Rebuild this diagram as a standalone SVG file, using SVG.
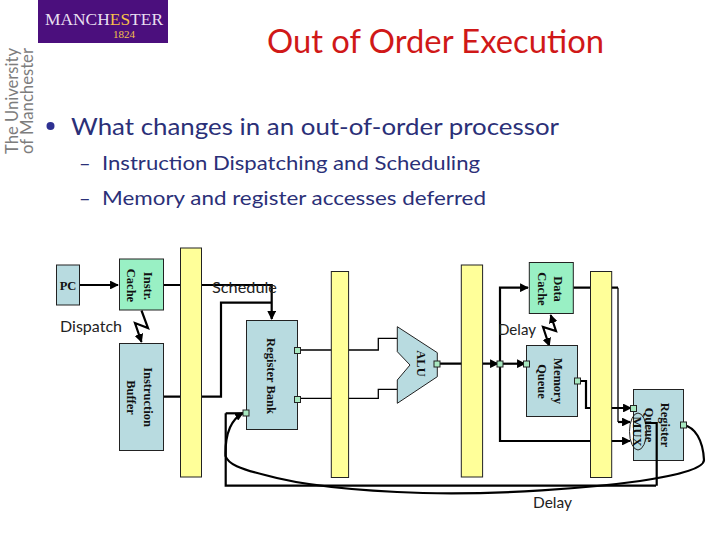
<svg xmlns="http://www.w3.org/2000/svg" width="720" height="540" viewBox="0 0 720 540">
<style>
.s{font-family:"Lato","Open Sans",sans-serif}
.n{font-family:"Liberation Serif",serif;font-weight:bold;font-size:12.5px;fill:#111;text-anchor:middle}
.blue{fill:#b8dbe0;stroke:#222;stroke-width:1}
.green{fill:#99f0c4;stroke:#222;stroke-width:1}
.bar{fill:#ffff99;stroke:#222;stroke-width:1}
.port{fill:#a8e8c0;stroke:#222;stroke-width:1}
.t{fill:none;stroke:#000;stroke-width:2.200}
.m{fill:none;stroke:#000;stroke-width:1.300}
.lab{font-size:15px;fill:#222}
</style>
<defs>
<marker id="a" viewBox="0 0 10 10" refX="9" refY="5" markerWidth="4" markerHeight="4" orient="auto-start-reverse" markerUnits="strokeWidth"><path d="M0 0L10 5L0 10Z" fill="#000"/></marker>
</defs>
<rect width="720" height="540" fill="#fff"/>
<g id="logo">
<rect x="38" y="0" width="130" height="43" fill="#4b0f7d"/>
<text x="45" y="24.500" font-family="Liberation Serif,serif" font-size="16" fill="#e8dff0" textLength="118" lengthAdjust="spacingAndGlyphs">MANCH<tspan fill="#f5c04a">ES</tspan>TER</text>
<text x="124" y="38" font-family="Liberation Serif,serif" font-size="11" fill="#f5c04a" text-anchor="middle">1824</text>
<g fill="#7d7d7d" font-family="Lato,sans-serif">
<text transform="translate(18,154) rotate(-90)" font-size="18" textLength="106" lengthAdjust="spacingAndGlyphs">The University</text>
<text transform="translate(33,154) rotate(-90)" font-size="17" textLength="106" lengthAdjust="spacingAndGlyphs">of Manchester</text>
</g>
</g>
<text class="s" x="267" y="53" font-size="32" fill="#d01818" textLength="337" lengthAdjust="spacingAndGlyphs">Out of Order Execution</text>
<circle cx="50.500" cy="126" r="4" fill="#2e3192"/>
<text class="s" x="71" y="134.500" font-size="24" fill="#2b3078" textLength="488" lengthAdjust="spacingAndGlyphs">What changes in an out-of-order processor</text>
<g class="s" font-size="20" fill="#2b3078">
<text x="79" y="170">–</text>
<text x="102" y="170" textLength="378" lengthAdjust="spacingAndGlyphs">Instruction Dispatching and Scheduling</text>
<text x="79" y="205">–</text>
<text x="102" y="205" textLength="384" lengthAdjust="spacingAndGlyphs">Memory and register accesses deferred</text>
</g>
<g id="connectors">
<path class="t" d="M79.500 285H118" marker-end="url(#a)"/>
<path class="t" d="M163.500 285H271.700V319" marker-end="url(#a)"/>
<path class="t" d="M163.500 396.700H221V302.700H271.700"/>
<path class="t" d="M141.500 310.500L148 328L135 323L141.500 342" marker-end="url(#a)"/>
<path class="m" d="M297.500 350H378.300V338.300H397.300"/>
<path class="m" d="M297.500 398.300H378.300V389.300H397.300"/>
<path class="t" d="M437 363.700H498" marker-end="url(#a)"/>
<path class="t" d="M500 363.700H525" marker-end="url(#a)"/>
<path class="t" d="M500 363.700V287.700H528" marker-end="url(#a)"/>
<path class="t" d="M500 363.700V441H630" marker-end="url(#a)"/>
<path class="t" d="M550.700 315L556 331L543 327L549.300 346" marker-start="url(#a)" marker-end="url(#a)"/>
<path class="t" d="M577 381H586V408H631" marker-end="url(#a)"/>
<path class="t" d="M573.300 287.700H618"/>
<path class="m" d="M618 287.700V422"/>
<path class="t" d="M618 422H630" marker-end="url(#a)"/>
<path class="t" d="M225.700 413.300V485.700H656"/>
<path class="t" d="M225.700 413.300H243"/>
<path class="t" d="M683.300 425C695 427 703 440 704 460C704 468 680 475 640 481C590 488 500 495 423 493C360 491 300 485 265 475C240 469 228 464 225.500 456C225 435 230 420 243 413" marker-end="url(#a)"/>
</g>
<g id="bars">
<rect class="bar" x="180.500" y="248" width="21" height="229"/>
<rect class="bar" x="331.300" y="271.500" width="17.300" height="206"/>
<rect class="bar" x="461.300" y="265" width="21.300" height="212"/>
<rect class="bar" x="590.500" y="271.500" width="21.200" height="206"/>
</g>
<g id="pc"><rect class="blue" x="56.500" y="265" width="23" height="40"/><text class="n" x="68" y="289.500" font-size="11">PC</text></g>
<g id="instr-cache"><rect class="green" x="119.500" y="259" width="44" height="51"/>
<text class="n" transform="translate(144,286) rotate(90)">Instr.</text><text class="n" transform="translate(127,285.500) rotate(90)">Cache</text></g>
<g id="instr-buffer"><rect class="blue" x="119.500" y="343.500" width="44" height="107"/>
<text class="n" transform="translate(144,397) rotate(90)">Instruction</text><text class="n" transform="translate(127,397.500) rotate(90)">Buffer</text></g>
<g id="register-bank"><rect class="blue" x="246.500" y="320.500" width="51" height="109"/>
<text class="n" transform="translate(266.500,376) rotate(90)">Register Bank</text>
<rect class="port" x="243" y="410" width="6" height="6"/><rect class="port" x="294.500" y="347.500" width="6" height="6"/><rect class="port" x="294.500" y="396.500" width="6" height="6"/></g>
<g id="alu"><path class="blue" d="M397.300 326.700L437.300 352.700V376.700L397.300 403.300V380L410 365L397.300 351.700Z"/>
<text class="n" transform="translate(416.500,363.500) rotate(90)">ALU</text>
<rect class="port" x="434" y="361" width="6" height="6"/></g>
<g id="mid-port"><rect class="port" x="497" y="361" width="6" height="6"/></g>
<g id="data-cache"><rect class="green" x="529.300" y="262.500" width="44" height="51"/>
<text class="n" transform="translate(554,289) rotate(90)">Data</text><text class="n" transform="translate(537.500,289) rotate(90)">Cache</text></g>
<g id="memory-queue"><rect class="blue" x="526.500" y="345.500" width="51" height="71"/>
<text class="n" transform="translate(554,381) rotate(90)">Memory</text><text class="n" transform="translate(537.500,381.500) rotate(90)">Queue</text>
<rect class="port" x="523.500" y="361" width="6" height="6"/><rect class="port" x="574.500" y="378" width="6" height="6"/></g>
<g id="register-queue"><rect class="blue" x="633.500" y="389.500" width="50" height="71"/>
<text class="n" transform="translate(660.500,425) rotate(90)">Register</text><text class="n" transform="translate(644.500,425) rotate(90)">Queue</text>
<ellipse cx="638" cy="431.500" rx="8.500" ry="18.500" fill="none" stroke="#222" stroke-width="1"/>
<text class="n" transform="translate(633,431.500) rotate(90)">MUX</text>
<rect class="port" x="630.500" y="405.500" width="6" height="6"/><rect class="port" x="680.500" y="422" width="6" height="6"/></g>
<g id="connectors-top"><path class="t" d="M645 423H656.700V485.700"/></g>
<g class="s lab">
<text x="212" y="293" textLength="65" lengthAdjust="spacingAndGlyphs">Schedule</text>
<text x="60" y="332" textLength="62" lengthAdjust="spacingAndGlyphs">Dispatch</text>
<text x="498" y="335" textLength="38" lengthAdjust="spacingAndGlyphs">Delay</text>
<text x="533" y="508" textLength="39" lengthAdjust="spacingAndGlyphs">Delay</text>
</g>
</svg>
